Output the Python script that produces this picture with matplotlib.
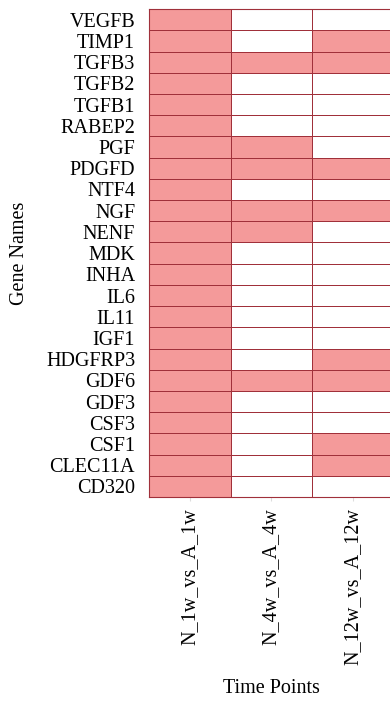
import numpy as np
import matplotlib
matplotlib.use("Agg")
import matplotlib.pyplot as plt
from matplotlib.colors import ListedColormap

genes = ["VEGFB", "TIMP1", "TGFB3", "TGFB2", "TGFB1", "RABEP2", "PGF", "PDGFD",
         "NTF4", "NGF", "NENF", "MDK", "INHA", "IL6", "IL11", "IGF1", "HDGFRP3",
         "GDF6", "GDF3", "CSF3", "CSF1", "CLEC11A", "CD320"]
time_points = ["N_1w_vs_A_1w", "N_4w_vs_A_4w", "N_12w_vs_A_12w"]

# presence (1) / absence (0) of each gene per comparison
n1w = [1] * 23
n4w = [0, 0, 1, 0, 0, 0, 1, 1, 0, 1, 1, 0, 0, 0, 0, 0, 0, 1, 0, 0, 0, 0, 0]
n12w = [0, 1, 1, 0, 0, 0, 0, 1, 0, 1, 0, 0, 0, 0, 0, 0, 1, 1, 0, 0, 1, 1, 0]

data = np.array([n1w, n4w, n12w]).T

plt.rcParams["font.family"] = ["Liberation Serif", "DejaVu Serif"]

fig = plt.figure(figsize=(3.9, 7.06), dpi=100)
ax = fig.add_axes([0.382, 0.296, 0.628, 0.691])

cmap = ListedColormap(["#ffffff", "#f49a9a"])
edge = "#a0303a"
ax.pcolormesh(data, cmap=cmap, vmin=0, vmax=1, edgecolors=edge, linewidth=0.7)
ax.set_xlim(0, 3)
ax.set_ylim(len(genes), 0)

ax.set_xticks(np.arange(3) + 0.5)
ax.set_xticklabels(time_points, rotation=90, fontsize=14.5)
ax.set_yticks(np.arange(len(genes)) + 0.5)
ax.set_yticklabels(genes, fontsize=14.5)
ax.tick_params(axis="y", length=0, pad=10)
ax.tick_params(axis="x", length=3, color="#dddddd", pad=5)

for side in ["left", "top", "bottom"]:
    ax.spines[side].set_color(edge)
    ax.spines[side].set_linewidth(0.8)
ax.spines["right"].set_visible(False)

ax.set_xlabel("Time Points", fontsize=14.5, labelpad=10)
ax.set_ylabel("Gene Names", fontsize=14.5, labelpad=12)

fig.savefig("out.png", dpi=100)
